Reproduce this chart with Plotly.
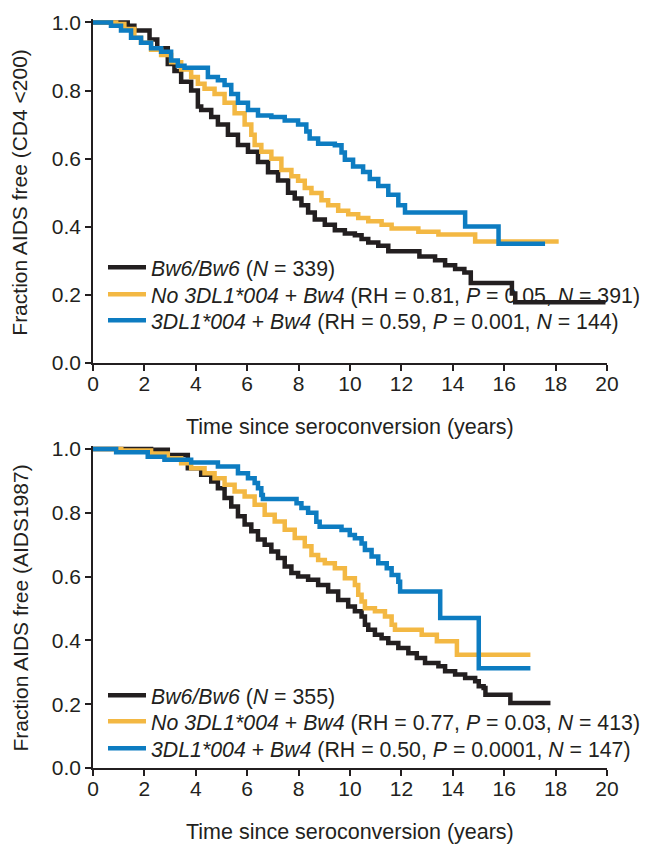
import plotly.graph_objects as go

# ---------------- Data ----------------
# Top panel: Fraction AIDS free (CD4 <200)
top_bw6_t = [0, 1.35, 1.61, 2.2, 2.5, 2.91, 3.17, 3.43, 3.82, 4.08, 4.21, 4.60, 4.86, 5.25, 5.64,
             6.03, 6.42, 6.81, 7.20, 7.59, 7.85, 8.11, 8.37, 8.63, 9.02, 9.41, 9.80, 10.19, 10.45,
             10.71, 11.10, 11.49, 12.7, 13.31, 13.70, 14.09, 14.45, 14.7, 16.30, 16.43, 19.94]
top_bw6_s = [1.0, 0.99, 0.976, 0.95, 0.924, 0.878, 0.857, 0.826, 0.80, 0.753, 0.743, 0.722, 0.70,
             0.67, 0.64, 0.62, 0.59, 0.56, 0.536, 0.50, 0.483, 0.463, 0.442, 0.421, 0.406, 0.390,
             0.380, 0.375, 0.364, 0.354, 0.344, 0.328, 0.313, 0.302, 0.287, 0.276, 0.266, 0.235,
             0.204, 0.178, 0.178]

top_no004_t = [0, 0.9, 1.22, 1.61, 1.87, 2.26, 2.65, 3.04, 3.43, 3.82, 4.08, 4.34, 4.73, 5.12, 5.51,
               5.90, 6.16, 6.29, 6.55, 6.94, 7.33, 7.72, 7.98, 8.24, 8.50, 8.89, 9.15, 9.54, 9.93,
               10.32, 10.71, 11.23, 11.62, 12.66, 13.44, 14.87, 18.12]
top_no004_s = [1.0, 0.995, 0.981, 0.955, 0.94, 0.92, 0.904, 0.883, 0.862, 0.84, 0.82, 0.805, 0.79,
               0.764, 0.733, 0.70, 0.67, 0.64, 0.62, 0.60, 0.567, 0.548, 0.535, 0.514, 0.499, 0.478,
               0.463, 0.447, 0.437, 0.426, 0.416, 0.406, 0.395, 0.385, 0.377, 0.357, 0.357]

top_004_t = [0, 0.70, 1.09, 1.48, 1.87, 2.26, 2.65, 3.04, 3.30, 3.56, 4.47, 4.86, 5.12, 5.38, 5.64,
             6.03, 6.42, 6.94, 7.46, 7.98, 8.30, 8.43, 8.76, 9.41, 9.67, 9.80, 10.12, 10.51, 10.77,
             11.10, 11.49, 11.88, 12.14, 14.48, 15.78, 17.59]
top_004_s = [1.0, 0.99, 0.976, 0.955, 0.94, 0.924, 0.914, 0.888, 0.873, 0.867, 0.84, 0.83, 0.816,
             0.79, 0.764, 0.743, 0.727, 0.722, 0.712, 0.70, 0.68, 0.659, 0.644, 0.639, 0.618, 0.597,
             0.577, 0.561, 0.540, 0.520, 0.494, 0.463, 0.442, 0.401, 0.350, 0.350]

# Bottom panel: Fraction AIDS free (AIDS1987)
bot_bw6_t = [0, 2.26, 2.91, 3.69, 4.21, 4.60, 4.86, 5.12, 5.38, 5.64, 5.90, 6.16, 6.42, 6.68, 6.94,
             7.20, 7.46, 7.72, 7.98, 8.37, 8.76, 9.15, 9.54, 9.93, 10.19, 10.45, 10.58, 10.71,
             10.97, 11.23, 11.49, 11.88, 12.27, 12.60, 12.92, 13.44, 13.70, 14.09, 14.48, 14.87,
             15.01, 15.20, 15.27, 16.24, 17.80]
bot_bw6_s = [1.0, 0.998, 0.981, 0.940, 0.919, 0.898, 0.877, 0.846, 0.82, 0.789, 0.763, 0.742, 0.716,
             0.70, 0.679, 0.658, 0.632, 0.611, 0.600, 0.590, 0.574, 0.553, 0.527, 0.506, 0.491,
             0.475, 0.449, 0.433, 0.418, 0.407, 0.392, 0.376, 0.360, 0.345, 0.329, 0.319, 0.303,
             0.293, 0.282, 0.272, 0.256, 0.251, 0.230, 0.204, 0.204]

bot_no004_t = [0, 1.1, 2.26, 2.91, 3.43, 3.82, 4.34, 4.73, 5.12, 5.51, 5.90, 6.29, 6.68, 7.07, 7.46,
               7.85, 8.24, 8.50, 8.76, 9.02, 9.41, 9.80, 10.19, 10.32, 10.45, 10.58, 10.97, 11.36,
               11.62, 11.75, 12.79, 13.38, 14.16, 17.02]
bot_no004_s = [1.0, 0.995, 0.986, 0.971, 0.955, 0.940, 0.924, 0.908, 0.888, 0.867, 0.851, 0.825,
               0.794, 0.773, 0.747, 0.721, 0.695, 0.668, 0.652, 0.642, 0.626, 0.595, 0.574, 0.543,
               0.522, 0.501, 0.491, 0.475, 0.449, 0.433, 0.418, 0.397, 0.355, 0.355]

bot_004_t = [0, 0.90, 2.13, 2.78, 3.82, 4.86, 5.64, 6.03, 6.29, 6.42, 6.55, 6.61, 7.92, 8.11, 8.37,
             8.69, 8.82, 9.67, 9.99, 10.19, 10.45, 10.58, 10.84, 11.10, 11.43, 11.62, 11.88, 11.95,
             13.51, 15.01, 17.02]
bot_004_s = [1.0, 0.99, 0.976, 0.966, 0.958, 0.945, 0.924, 0.908, 0.893, 0.877, 0.856, 0.843, 0.83,
             0.815, 0.80, 0.772, 0.756, 0.746, 0.730, 0.720, 0.704, 0.683, 0.663, 0.642, 0.626,
             0.605, 0.584, 0.553, 0.470, 0.313, 0.313]

top_names = ["<i>Bw6/Bw6</i> (<i>N</i> = 339)",
             "<i>No 3DL1*004</i> + <i>Bw4</i> (RH = 0.81, <i>P</i> = 0.05, <i>N</i> = 391)",
             "<i>3DL1*004</i> + <i>Bw4</i> (RH = 0.59, <i>P</i> = 0.001, <i>N</i> = 144)"]
bot_names = ["<i>Bw6/Bw6</i> (<i>N</i> = 355)",
             "<i>No 3DL1*004</i> + <i>Bw4</i> (RH = 0.77, <i>P</i> = 0.03, <i>N</i> = 413)",
             "<i>3DL1*004</i> + <i>Bw4</i> (RH = 0.50, <i>P</i> = 0.0001, <i>N</i> = 147)"]

y_titles = ["Fraction AIDS free (CD4 <200)", "Fraction AIDS free (AIDS1987)"]
x_title = "Time since seroconversion (years)"
x_ticks = list(range(0, 21, 2))
y_ticks = [0.0, 0.2, 0.4, 0.6, 0.8, 1.0]

colors = ["#231f20", "#f3b843", "#0d7cc1"]
FONT = "Liberation Sans, Arial, sans-serif"
INK = "#231f20"

# ---------------- Layout geometry (pixels) ----------------
W, H = 654, 849
ML, MR, MT, MB = 85, 55, 11, 89
PH = H - MT - MB          # plot-area height
Y0 = H - MB               # pixel row of plot-area bottom

top_zero_px = 355
bot_top_px = 437.8
top_dom = [(Y0 - top_zero_px) / PH, 1.0]
bot_dom = [0.0, (Y0 - bot_top_px) / PH]

legend_tops_px = [239, 266, 292, 667, 693, 720]
legend_left_px = 95

fig = go.Figure()

top_series = [(top_bw6_t, top_bw6_s), (top_no004_t, top_no004_s), (top_004_t, top_004_s)]
bot_series = [(bot_bw6_t, bot_bw6_s), (bot_no004_t, bot_no004_s), (bot_004_t, bot_004_s)]

leg_ids = ["legend", "legend2", "legend3", "legend4", "legend5", "legend6"]
k = 0
for (t, s), name, c in zip(top_series, top_names, colors):
    fig.add_trace(go.Scatter(x=t, y=s, mode="lines", line=dict(color=c, width=4.5, shape="hv"),
                             name=name, xaxis="x", yaxis="y", legend=leg_ids[k]))
    k += 1
for (t, s), name, c in zip(bot_series, bot_names, colors):
    fig.add_trace(go.Scatter(x=t, y=s, mode="lines", line=dict(color=c, width=4.5, shape="hv"),
                             name=name, xaxis="x2", yaxis="y2", legend=leg_ids[k]))
    k += 1

axis_common = dict(showline=True, linecolor=INK, linewidth=1.5, ticks="outside", ticklen=6,
                   tickwidth=1.5, tickcolor=INK, showgrid=False, zeroline=False,
                   ticklabeloverflow="allow", automargin=False,
                   tickfont=dict(family=FONT, size=21, color=INK), fixedrange=True)

legends = {}
for lid, top_px in zip(leg_ids, legend_tops_px):
    legends[lid] = dict(x=(legend_left_px - ML) / (W - ML - MR), y=(Y0 - top_px) / PH,
                        xanchor="left", yanchor="top", bgcolor="rgba(0,0,0,0)", borderwidth=0,
                        itemwidth=38, font=dict(family=FONT, size=21.3, color=INK))

fig.update_layout(
    width=W, height=H,
    margin=dict(l=ML, r=MR, t=MT, b=MB, autoexpand=False),
    paper_bgcolor="white", plot_bgcolor="white",
    font=dict(family=FONT, size=21, color=INK),
    xaxis=dict(domain=[0, 1], range=[0, 20], tickvals=x_ticks, anchor="y", ticklabelstandoff=-5,
               **axis_common),
    yaxis=dict(domain=top_dom, range=[0, 1.01], tickvals=y_ticks, tickformat=".1f", anchor="x",
               **axis_common),
    xaxis2=dict(domain=[0, 1], range=[0, 20], tickvals=x_ticks, anchor="y2", ticklabelstandoff=-5,
                **axis_common),
    yaxis2=dict(domain=bot_dom, range=[0, 1.01], tickvals=y_ticks, tickformat=".1f", anchor="x2",
                **axis_common),
    showlegend=True,
    annotations=[
        dict(text=x_title, xref="x domain", yref="y domain", x=0.5, y=0, xanchor="center",
             yanchor="middle", yshift=-64, showarrow=False, font=dict(family=FONT, size=21.5, color=INK)),
        dict(text=x_title, xref="x2 domain", yref="y2 domain", x=0.5, y=0, xanchor="center",
             yanchor="middle", yshift=-64, showarrow=False, font=dict(family=FONT, size=21.5, color=INK)),
        dict(text=y_titles[0], xref="x domain", yref="y", x=0, y=0.5, xanchor="center",
             yanchor="middle", xshift=-73, textangle=-90, showarrow=False,
             font=dict(family=FONT, size=21, color=INK)),
        dict(text=y_titles[1], xref="x2 domain", yref="y2", x=0, y=0.5, xanchor="center",
             yanchor="middle", xshift=-73, textangle=-90, showarrow=False,
             font=dict(family=FONT, size=21, color=INK)),
    ],
    **legends,
)

fig.write_html("out.html")
